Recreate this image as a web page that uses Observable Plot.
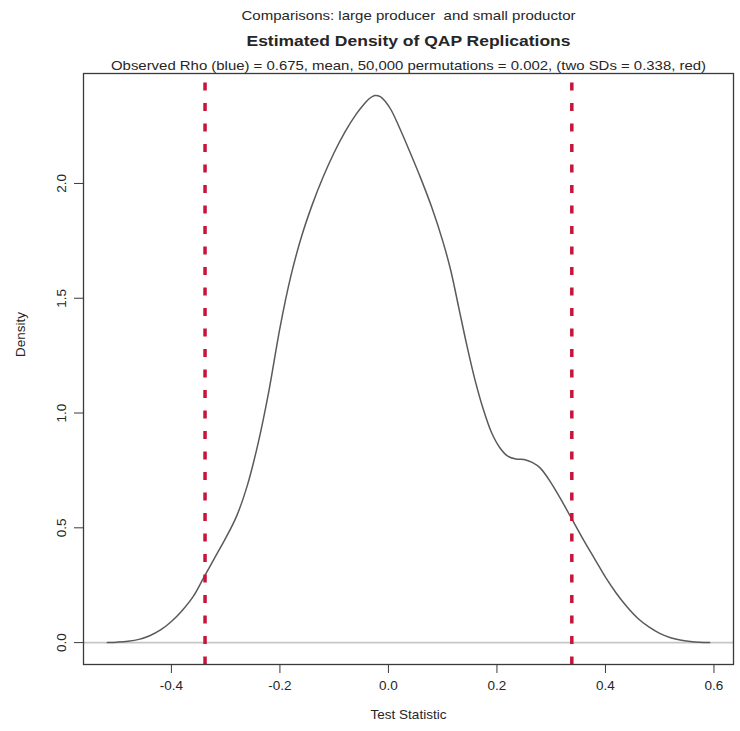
<!DOCTYPE html>
<html>
<head>
<meta charset="utf-8">
<script src="https://cdn.jsdelivr.net/npm/d3@7"></script>
<script src="https://cdn.jsdelivr.net/npm/@observablehq/plot@0.6"></script>
<style>
  html, body { margin: 0; padding: 0; background: #fff; }
  #topline { position: absolute; left: 0; right: 0; top: 4px; border-top: 1px solid #e6e6e6; }
  #chart { position: absolute; left: 0; top: 0; }
</style>
</head>
<body>
<div id="topline"></div>
<div id="chart"></div>
<script>
// ---- data ----
const densityX = [-0.518, -0.50, -0.48, -0.46, -0.44, -0.42, -0.40, -0.38, -0.36, -0.34,
  -0.32, -0.30, -0.28, -0.26, -0.24, -0.22, -0.20, -0.18, -0.16, -0.14,
  -0.12, -0.10, -0.08, -0.06, -0.045, -0.035, -0.025, -0.015, -0.005, 0.005,
  0.02, 0.04, 0.06, 0.08, 0.10, 0.115, 0.13, 0.145, 0.16, 0.175,
  0.19, 0.205, 0.22, 0.235, 0.25, 0.265, 0.28, 0.30, 0.32, 0.34,
  0.36, 0.38, 0.40, 0.42, 0.44, 0.46, 0.48, 0.50, 0.52, 0.54,
  0.56, 0.592];
const densityY = [0.000, 0.002, 0.006, 0.014, 0.030, 0.055, 0.092, 0.140, 0.200, 0.285,
  0.370, 0.455, 0.550, 0.685, 0.870, 1.100, 1.370, 1.595, 1.770, 1.910,
  2.030, 2.135, 2.225, 2.300, 2.345, 2.370, 2.383, 2.378, 2.355, 2.320,
  2.245, 2.135, 2.020, 1.895, 1.750, 1.620, 1.455, 1.290, 1.140, 1.015,
  0.915, 0.850, 0.812, 0.800, 0.798, 0.785, 0.760, 0.695, 0.615, 0.530,
  0.445, 0.365, 0.285, 0.215, 0.155, 0.105, 0.068, 0.040, 0.021, 0.010,
  0.004, 0.000];
const sdLines = [-0.338, 0.338];
const xTicks = [-0.4, -0.2, 0.0, 0.2, 0.4, 0.6];
const yTicks = [0.0, 0.5, 1.0, 1.5, 2.0];
const xDomain = [-0.562, 0.636];
const yDomain = [-0.0954, 2.479];
const titleTop = "Comparisons: large producer  and small productor";
const titleMain = "Estimated Density of QAP Replications";
const titleSub = "Observed Rho (blue) = 0.675, mean, 50,000 permutations = 0.002, (two SDs = 0.338, red)";
const xLabel = "Test Statistic";
const yLabel = "Density";

const curve = densityX.map((x, i) => ({x, y: densityY[i]}));
const font = "'Liberation Sans', Arial, Helvetica, sans-serif";
const ink = "#262626";

const chart = Plot.plot({
  width: 740,
  height: 731,
  marginTop: 73,
  marginLeft: 83,
  marginRight: 7,
  marginBottom: 67,
  style: {fontFamily: font, color: ink, background: "#fff"},
  x: {domain: xDomain},
  y: {domain: yDomain},
  marks: [
    Plot.ruleY([0], {stroke: "#c6c6c6", strokeWidth: 1.6}),
    Plot.line(curve, {x: "x", y: "y", stroke: "#5a5a5a", strokeWidth: 1.5, curve: "catmull-rom"}),
    Plot.link(sdLines, {x1: d => d, x2: d => d, y1: () => yDomain[0], y2: () => yDomain[1],
      stroke: "#c8143a", strokeWidth: 3.5, strokeDasharray: "8,12.5"}),
    Plot.frame({stroke: "#3a3a3a", strokeWidth: 1.3}),
    Plot.axisX({ticks: xTicks, tickSize: 9, tickPadding: 7, tickFormat: d => d.toFixed(1),
      label: null, fontSize: 13.5, stroke: "#3a3a3a"}),
    Plot.axisY({ticks: yTicks, tickSize: 9, tickPadding: 9, tickRotate: -90, tickFormat: d => d.toFixed(1),
      label: null, fontSize: 13.5, stroke: "#3a3a3a"}),
    Plot.text([xLabel], {frameAnchor: "bottom", dy: 54, text: d => d, fontSize: 13.5, fill: ink}),
    Plot.text([yLabel], {frameAnchor: "left", dx: -63, dy: -12, rotate: -90, text: d => d, fontSize: 13.5, fill: ink}),
    Plot.text([titleSub], {frameAnchor: "top", dy: -13, text: d => d, fontSize: 13, fill: ink}),
    Plot.text([titleMain], {frameAnchor: "top", dy: -38, text: d => d, fontSize: 15, fontWeight: "bold", fill: ink}),
    Plot.text([titleTop], {frameAnchor: "top", dy: -63, text: d => d, fontSize: 13, fill: ink})
  ]
});
// the reference's titles are horizontally stretched: match their measured widths
const widths = new Map([[titleTop, 334], [titleMain, 324], [titleSub, 595]]);
d3.select(chart).selectAll("text").each(function () {
  const w = widths.get(this.textContent);
  if (w) { this.setAttribute("textLength", w); this.setAttribute("lengthAdjust", "spacingAndGlyphs"); }
});
document.getElementById("chart").appendChild(chart);
</script>
</body>
</html>
